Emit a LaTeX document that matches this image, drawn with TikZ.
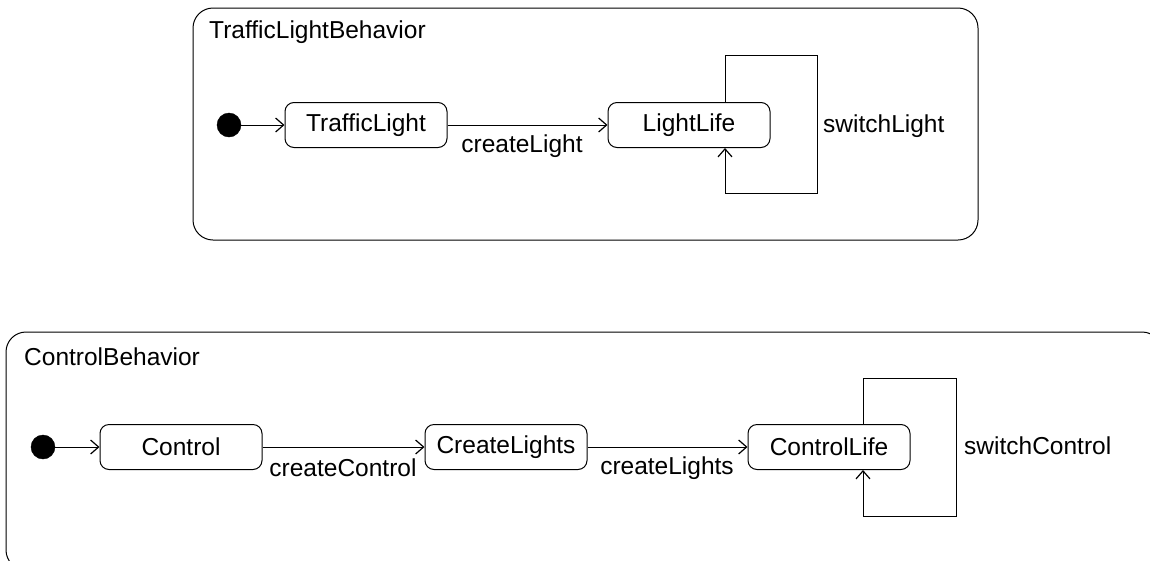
\documentclass[tikz,border=0pt]{standalone}
\usepackage{fontspec}
\setmainfont{Liberation Sans}
\usetikzlibrary{arrows.meta}
\tikzset{
  frame/.style={draw, line width=1pt, rounded corners=20pt},
  stbox/.style={draw, line width=1pt, rounded corners=9pt, minimum width=162pt, minimum height=45pt, inner sep=0pt},
  initdot/.style={circle, fill=black, draw=black, minimum size=24pt, inner sep=0pt},
  trans/.style={draw, line width=1pt, -{Straight Barb[length=8pt,width=14pt,line width=1.2pt]}},
  lbl/.style={inner sep=0pt, anchor=base},
  ttl/.style={inner sep=0pt, anchor=base west},
}
\begin{document}
\begin{tikzpicture}[x=1pt, y=-1pt, font=\fontsize{24.5}{28}\selectfont]
\useasboundingbox (0,0) rectangle (1150,560);
\clip (0,0) rectangle (1150,560);
\fill[white] (0,0) rectangle (1150,560);

% ---- TrafficLightBehavior ----
\draw[frame] (193,8) rectangle (978,240);
\node[ttl] (t1) at (209,38) {TrafficLightBehavior};
\node[initdot] (i1) at (229,125) {};
\node[stbox] (tl) at (366,125) {TrafficLight};
\node[stbox] (ll) at (689,125) {LightLife};
\draw[trans] (i1) -- (tl);
\draw[trans] (tl) -- (ll);
\node[lbl] (lcl) at (522,152) {createLight};
\coordinate (a1) at (725,55);
\coordinate (a2) at (817,55);
\coordinate (a3) at (817,193);
\coordinate (a4) at (725,193);
\draw[trans] (ll.north -| a1) -- (a1) -- (a2) -- (a3) -- (a4) -- (ll.south -| a4);
\node[ttl] (lsl) at (823,132) {switchLight};

% ---- ControlBehavior ----
\draw[frame] (6,332) rectangle (1162,570);
\node[ttl] (t2) at (24,365) {ControlBehavior};
\node[initdot] (i2) at (43,447) {};
\node[stbox] (ctl) at (181,447) {Control};
\node[stbox] (cls) at (506,447) {CreateLights};
\node[stbox] (cll) at (829,447) {ControlLife};
\draw[trans] (i2) -- (ctl);
\draw[trans] (ctl) -- (cls);
\draw[trans] (cls) -- (cll);
\node[lbl] (lcc) at (343,476) {createControl};
\node[lbl] (lcs) at (667,474) {createLights};
\coordinate (b1) at (863,378);
\coordinate (b2) at (956,378);
\coordinate (b3) at (956,516);
\coordinate (b4) at (863,516);
\draw[trans] (cll.north -| b1) -- (b1) -- (b2) -- (b3) -- (b4) -- (cll.south -| b4);
\node[ttl] (lsc) at (964,454) {switchControl};
\end{tikzpicture}
\end{document}
